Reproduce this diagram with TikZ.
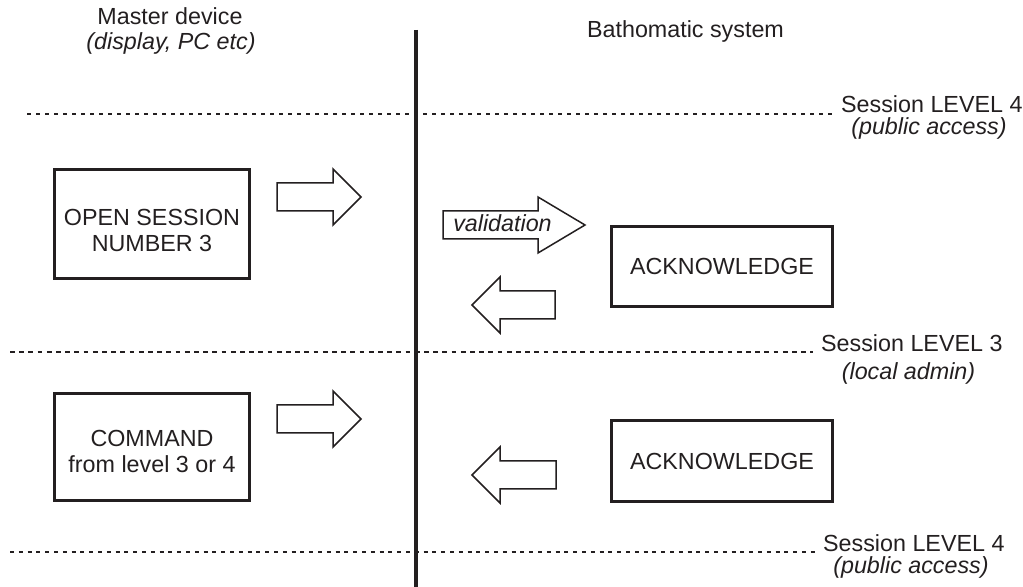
\documentclass[tikz,border=0pt]{standalone}
\usepackage{fontspec}
\setmainfont{Liberation Sans}
\usetikzlibrary{positioning}
\definecolor{ink}{RGB}{35,31,32}
\begin{document}
\fontsize{11.65pt}{13pt}\selectfont
\begin{tikzpicture}[x=0.5pt, y=-0.5pt,
    main/.style={draw=ink, line width=1.5pt, inner sep=0pt, text=ink},
    lbl/.style={anchor=base, text=ink},
    lvl/.style={anchor=base west, text=ink},
    flow/.style={draw=ink, line width=0.75pt, fill=white, line join=miter}]
    \useasboundingbox (0,0) rectangle (1023,587);
    % headings
    \node[lbl] (master) at (170,25) {Master device};
    \node[lbl, font=\itshape] (masterex) at (171,50) {(display, PC etc)};
    \node[lbl] (batho) at (685.5,38) {Bathomatic system};
    % session levels
    \node[lvl] (lvl4a) at (833,113) {Session LEVEL 4};
    \node[lbl, font=\itshape] (pub4a) at (929,135) {(public access)};
    \node[lvl] (lvl3) at (813,352) {Session LEVEL 3};
    \node[lbl, font=\itshape] (admin) at (908.5,380) {(local admin)};
    \node[lvl] (lvl4b) at (815,552) {Session LEVEL 4};
    \node[lbl, font=\itshape] (pub4b) at (911,574) {(public access)};
    \coordinate (s4a) at (27,114);
    \coordinate (s3) at (10,352);
    \coordinate (s4b) at (10,552);
    \draw[ink, line width=1pt, dash pattern=on 2.1pt off 2.4pt] (s4a) -- (s4a -| lvl4a.base west);
    \draw[ink, line width=1pt, dash pattern=on 2.4pt off 2.2pt] (s3) -- (s3 -| lvl3.base west);
    \draw[ink, line width=1pt, dash pattern=on 2pt off 2.4pt] (s4b) -- (s4b -| lvl4b.base west);
    % divider
    \coordinate (divtop) at (416,30);
    \coordinate (divbot) at (416,587);
    \draw[ink, line width=2pt] (divtop) -- (divbot);
    % boxes
    \node[main, minimum width=97.5pt, minimum height=54.5pt] (open) at (152,224) {};
    \node[text=ink, align=center] (opentxt) at (152,230.4) {OPEN SESSION\\NUMBER 3};
    \node[main, minimum width=97.5pt, minimum height=53.5pt] (cmd) at (152,447) {};
    \node[text=ink, align=center] (cmdtxt) at (152,451.4) {COMMAND\\from level 3 or 4};
    \node[main, minimum width=110.5pt, minimum height=40pt] (ack1) at (722,266.5) {ACKNOWLEDGE};
    \node[main, minimum width=110.5pt, minimum height=40.5pt] (ack2) at (722,461) {ACKNOWLEDGE};
    % block arrows
    \draw[flow] (277,183) -- (333,183) -- (333,169) -- (361,197) -- (333,225) -- (333,211) -- (277,211) -- cycle;
    \draw[flow] (277,405) -- (333,405) -- (333,391) -- (361,419) -- (333,447) -- (333,433) -- (277,433) -- cycle;
    \draw[flow] (443,211) -- (538,211) -- (538,197) -- (585,225) -- (538,253) -- (538,239) -- (443,239) -- cycle;
    \node[lbl, font=\itshape] (valid) at (502.5,232) {validation};
    \draw[flow] (555,291) -- (500,291) -- (500,277) -- (472,305) -- (500,333) -- (500,319) -- (555,319) -- cycle;
    \draw[flow] (556,461) -- (500,461) -- (500,447) -- (472,475) -- (500,503) -- (500,489) -- (556,489) -- cycle;
\end{tikzpicture}
\end{document}
